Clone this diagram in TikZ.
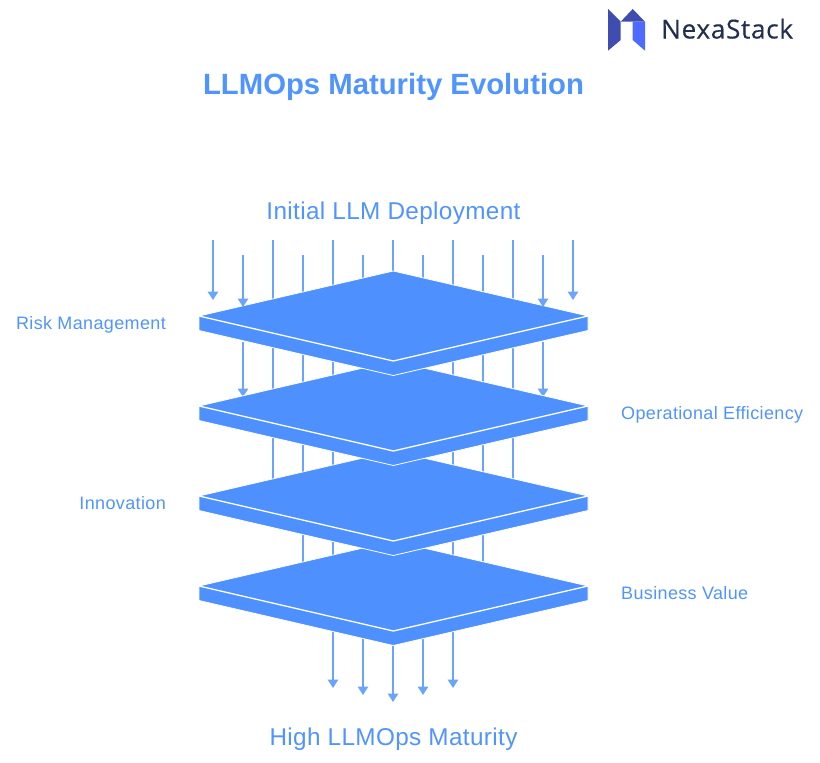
\documentclass[tikz,border=0pt]{standalone}
\usepackage{fontspec}
\setmainfont{Liberation Sans}
\newfontfamily\logofont[FakeBold=0.25,LetterSpace=2.5]{Open Sans}
\newfontfamily\labfont[LetterSpace=2]{Liberation Sans}
\newfontfamily\biglabfont[LetterSpace=1.5]{Liberation Sans}
\usetikzlibrary{arrows.meta}
\definecolor{plateblue}{HTML}{4D90FE}
\definecolor{textblue}{HTML}{5094FF}
\definecolor{logodark}{HTML}{3F4DB0}
\definecolor{logolight}{HTML}{4F6BFF}
\definecolor{logotext}{HTML}{22304F}
\tikzset{
  x=1pt,y=-1pt,
  flow/.style={draw=textblue!85!white,line width=1.5pt},
  flowtip/.style={flow,-{Triangle[width=10.5pt,length=8.5pt]},
    >=Triangle},
  plateshape/.style={fill=plateblue,draw=white,line width=0.8pt,line join=round},
  crease/.style={draw=white,line width=1.3pt,line join=round},
  lab/.style={text=textblue,font=\labfont\fontsize{18}{21}\selectfont,inner sep=0pt},
  biglab/.style={text=textblue,font=\biglabfont\fontsize{24.3}{29}\selectfont,inner sep=0pt,anchor=base},
}
\newcommand{\plate}[1]{%
  \path[plateshape] (199,#1+316) -- (393.3,#1+271) -- (588,#1+316) -- (588,#1+330.5) -- (393.3,#1+375.5) -- (199,#1+330.5) -- cycle;
  \path[crease] (199,#1+316) -- (393.3,#1+361) -- (588,#1+316);
}
\begin{document}
\begin{tikzpicture}
\useasboundingbox (0,0) rectangle (820,763);
% free ends of the flow lines
\coordinate (a1) at (213,240); \coordinate (b1) at (213,300);
\coordinate (a2) at (243,255); \coordinate (b2) at (243,307);
\coordinate (c2) at (243,342); \coordinate (d2) at (243,397);
\coordinate (a3) at (273,240); \coordinate (b3) at (273,482);
\coordinate (a4) at (303,255); \coordinate (b4) at (303,570);
\coordinate (a5) at (333,240); \coordinate (b5) at (333,688);
\coordinate (a6) at (363,255); \coordinate (b6) at (363,695);
\coordinate (a7) at (393,240); \coordinate (b7) at (393,702);
\coordinate (a8) at (423,255); \coordinate (b8) at (423,695);
\coordinate (a9) at (453,240); \coordinate (b9) at (453,688);
\coordinate (a10) at (483,255); \coordinate (b10) at (483,570);
\coordinate (a11) at (513,240); \coordinate (b11) at (513,482);
\coordinate (a12) at (543,255); \coordinate (b12) at (543,307);
\coordinate (c12) at (543,342); \coordinate (d12) at (543,397);
\coordinate (a13) at (573,240); \coordinate (b13) at (573,300);
\foreach \i in {1,5,6,7,8,9,13} \draw[flowtip] (a\i) -- (b\i);
\foreach \i in {3,4,10,11} \draw[flow] (a\i) -- (b\i);
% plates, bottom to top
\plate{270}
\plate{180}
\draw[flowtip] (c2) -- (d2);
\draw[flowtip] (c12) -- (d12);
\plate{90}
\plate{0}
\draw[flowtip] (a2) -- (b2);
\draw[flowtip] (a12) -- (b12);
% title and labels
\node[text=textblue,font=\bfseries\fontsize{29.3}{34}\selectfont,inner sep=0pt,anchor=base] (title) at (393.5,94.5) {LLMOps Maturity Evolution};
\node[biglab] (start) at (393.5,219) {Initial LLM Deployment};
\node[biglab] (end) at (393.5,745) {High LLMOps Maturity};
\node[lab,anchor=base east] (risk) at (166,329) {Risk Management};
\node[lab,anchor=base west] (oper) at (621,419) {Operational Efficiency};
\node[lab,anchor=base east] (innov) at (166,509) {Innovation};
\node[lab,anchor=base west] (biz) at (621,599) {Business Value};
% logo
\fill[logodark] (608,9) -- (620.7,21.7) -- (620.7,40) -- (608,50.7) -- cycle;
\fill[logodark] (620.7,21.7) -- (632.7,9) -- (645,21.7) -- cycle;
\fill[logolight] (632.7,21.7) -- (645,21.7) -- (645,50.7) -- (632.7,40) -- cycle;
\node[text=logotext,font=\logofont\fontsize{26.2}{30}\selectfont,anchor=base west,inner sep=0pt] (brand) at (661,38.5) {NexaStack};
\end{tikzpicture}
\end{document}
